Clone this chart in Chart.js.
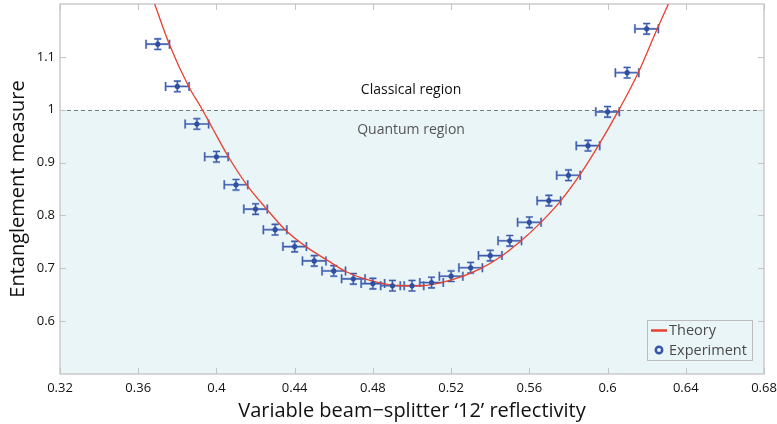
<!DOCTYPE html>
<html><head><meta charset="utf-8">
<script src="https://cdn.jsdelivr.net/npm/chart.js@4.4.1/dist/chart.umd.min.js"></script>
<style>html,body{margin:0;padding:0;background:#fff;}#wrap{width:777px;height:424px;}</style>
</head><body><div id="wrap"><canvas id="c" width="777" height="424"></canvas></div>
<script>
// ---- data ----
const xTicks = [0.32, 0.36, 0.40, 0.44, 0.48, 0.52, 0.56, 0.60, 0.64, 0.68];
const yTicks = [0.6, 0.7, 0.8, 0.9, 1.0, 1.1];

const expX = [0.37,0.38,0.39,0.40,0.41,0.42,0.43,0.44,0.45,0.46,0.47,0.48,0.49,0.50,0.51,0.52,0.53,0.54,0.55,0.56,0.57,0.58,0.59,0.60,0.61,0.62];
const expY = [1.124,1.044,0.973,0.911,0.858,0.812,0.773,0.741,0.714,0.695,0.680,0.671,0.667,0.667,0.673,0.685,0.701,0.724,0.752,0.787,0.828,0.876,0.932,0.996,1.070,1.153];
const expErrX = [0.006,0.006,0.006,0.006,0.006,0.006,0.006,0.006,0.006,0.006,0.006,0.006,0.006,0.006,0.006,0.006,0.006,0.006,0.006,0.006,0.006,0.006,0.006,0.006,0.006,0.006];
const expErrY = [0.010,0.010,0.010,0.010,0.010,0.010,0.010,0.010,0.010,0.010,0.010,0.010,0.010,0.010,0.010,0.010,0.010,0.010,0.010,0.010,0.010,0.010,0.010,0.010,0.010,0.010];

const theoryX = [0.3684,0.3759,0.3858,0.3928,0.3984,0.4061,0.4155,0.4257,0.4351,0.4458,0.4572,0.4666,0.4785,0.4939,0.5041,0.5211,0.5348,0.5450,0.5552,0.5654,0.5757,0.5859,0.5953,0.6060,0.6157,0.6254,0.6311];
const theoryY = [1.200,1.124,1.044,1.000,0.962,0.911,0.858,0.812,0.773,0.741,0.714,0.693,0.677,0.667,0.667,0.679,0.699,0.721,0.750,0.785,0.826,0.877,0.932,1.001,1.070,1.153,1.200];

const boundary = 1.0;
const labels = { theory: 'Theory', experiment: 'Experiment', classical: 'Classical region', quantum: 'Quantum region' };

const FONT = '"Open Sans", "Noto Sans", sans-serif';
const RED = '#e8402f';
const BLUE = '#3556a8';
const AXIS = '#c4c4c4';

const decor = {
  id: 'decor',
  beforeDatasetsDraw(chart) {
    const {ctx, chartArea: a, scales: {x, y}} = chart;
    ctx.save();
    const yb = y.getPixelForValue(boundary);
    ctx.fillStyle = '#eaf5f8';
    ctx.fillRect(a.left, yb, a.right - a.left, a.bottom - yb);
    ctx.strokeStyle = '#7a7a7a';
    ctx.lineWidth = 1;
    ctx.setLineDash([4, 3]);
    ctx.beginPath(); ctx.moveTo(a.left, Math.round(yb) + 0.5); ctx.lineTo(a.right, Math.round(yb) + 0.5); ctx.stroke();
    ctx.setLineDash([]);
    ctx.strokeStyle = AXIS; ctx.lineWidth = 1.3;
    ctx.strokeRect(a.left, a.top, a.right - a.left, a.bottom - a.top);
    ctx.lineWidth = 1;
    ctx.beginPath();
    xTicks.forEach(v => {
      const px = Math.round(x.getPixelForValue(v)) + 0.5;
      ctx.moveTo(px, a.bottom); ctx.lineTo(px, a.bottom - 6);
      ctx.moveTo(px, a.top); ctx.lineTo(px, a.top + 6);
    });
    yTicks.forEach(v => {
      const py = Math.round(y.getPixelForValue(v)) + 0.5;
      ctx.moveTo(a.left, py); ctx.lineTo(a.left + 6, py);
      ctx.moveTo(a.right, py); ctx.lineTo(a.right - 6, py);
    });
    ctx.stroke();
    ctx.textAlign = 'center'; ctx.textBaseline = 'middle';
    ctx.font = '14px ' + FONT;
    ctx.fillStyle = '#111';
    ctx.fillText(labels.classical, x.getPixelForValue(0.4995), y.getPixelForValue(1.037));
    ctx.fillStyle = '#555';
    ctx.fillText(labels.quantum, x.getPixelForValue(0.4995), y.getPixelForValue(0.962));
    ctx.beginPath();
    expX.forEach((xv, i) => {
      const yv = expY[i];
      const px = x.getPixelForValue(xv), py = y.getPixelForValue(yv);
      const xl = x.getPixelForValue(xv - expErrX[i]), xr = x.getPixelForValue(xv + expErrX[i]);
      const yt = y.getPixelForValue(yv + expErrY[i]), ybm = y.getPixelForValue(yv - expErrY[i]);
      ctx.moveTo(xl, py); ctx.lineTo(xr, py);
      ctx.moveTo(xl, py - 4.5); ctx.lineTo(xl, py + 4.5);
      ctx.moveTo(xr, py - 4.5); ctx.lineTo(xr, py + 4.5);
      ctx.moveTo(px, yt); ctx.lineTo(px, ybm);
      ctx.moveTo(px - 3.5, yt); ctx.lineTo(px + 3.5, yt);
      ctx.moveTo(px - 3.5, ybm); ctx.lineTo(px + 3.5, ybm);
    });
    ctx.strokeStyle = 'rgba(120,145,205,0.75)';
    ctx.lineWidth = 2.2;
    ctx.stroke();
    ctx.strokeStyle = '#3b5aaa';
    ctx.lineWidth = 1.1;
    ctx.stroke();
    ctx.restore();
  },
  afterDraw(chart) {
    const {ctx, chartArea: a} = chart;
    ctx.save();
    const bx = a.right - 117, by = a.bottom - 54, bw = 105, bh = 40;
    ctx.fillStyle = '#eaf5f8';
    ctx.fillRect(bx, by, bw, bh);
    ctx.strokeStyle = '#bcbcbc'; ctx.lineWidth = 1;
    ctx.strokeRect(bx + 0.5, by + 0.5, bw, bh);
    ctx.strokeStyle = RED; ctx.lineWidth = 2.5;
    ctx.beginPath(); ctx.moveTo(bx + 4, by + 10.5); ctx.lineTo(bx + 20, by + 10.5); ctx.stroke();
    ctx.strokeStyle = BLUE; ctx.lineWidth = 2.5;
    ctx.beginPath(); ctx.arc(bx + 12, by + 30, 3.2, 0, Math.PI * 2); ctx.stroke();
    ctx.fillStyle = '#4a4a4a';
    ctx.font = '14.5px ' + FONT;
    ctx.textAlign = 'left'; ctx.textBaseline = 'middle';
    ctx.fillText(chart.data.datasets[0].label, bx + 22, by + 11);
    ctx.fillText(chart.data.datasets[1].label, bx + 22, by + 30.5);
    ctx.restore();
  }
};

const fmt = v => String(+(+v).toFixed(2));

new Chart(document.getElementById('c'), {
  type: 'scatter',
  data: {
    datasets: [
      {
        label: labels.theory,
        data: theoryX.map((v, i) => ({x: v, y: theoryY[i]})),
        showLine: true,
        borderColor: RED,
        borderWidth: 1.3,
        pointRadius: 0,
        cubicInterpolationMode: 'monotone',
        order: 1
      },
      {
        label: labels.experiment,
        data: expX.map((v, i) => ({x: v, y: expY[i]})),
        showLine: false,
        pointRadius: 2.6,
        pointBackgroundColor: '#2f4f9f',
        pointBorderWidth: 0,
        order: 0
      }
    ]
  },
  options: {
    responsive: false,
    devicePixelRatio: 1,
    animation: false,
    layout: { padding: { top: 4, right: 13, left: 0, bottom: 0 } },
    plugins: { legend: { display: false }, tooltip: { enabled: false } },
    scales: {
      x: {
        type: 'linear', min: 0.32, max: 0.68,
        afterBuildTicks: s => { s.ticks = xTicks.map(v => ({value: v})); },
        afterFit: s => { s.height = 50; s.paddingLeft = 0; s.paddingRight = 0; },
        grid: { display: false, drawTicks: false },
        border: { display: false },
        ticks: { callback: fmt, font: { family: FONT, size: 13 }, color: '#111', padding: 6, maxRotation: 0, autoSkip: false },
        title: { display: true, text: 'Variable beam\u2212splitter \u201812\u2019 reflectivity', font: { family: FONT, size: 20 }, color: '#111', padding: { top: 0, bottom: 1 } }
      },
      y: {
        type: 'linear', min: 0.5, max: 1.2,
        afterBuildTicks: s => { s.ticks = yTicks.map(v => ({value: v})); },
        afterFit: s => { s.width = 60; s.paddingTop = 0; s.paddingBottom = 0; },
        grid: { display: false, drawTicks: false },
        border: { display: false },
        ticks: { callback: fmt, font: { family: FONT, size: 13 }, color: '#111', padding: 5, autoSkip: false },
        title: { display: true, text: 'Entanglement measure', font: { family: FONT, size: 20 }, color: '#111', padding: { top: 6, bottom: 0 } }
      }
    }
  },
  plugins: [decor]
});
</script>
</body></html>
